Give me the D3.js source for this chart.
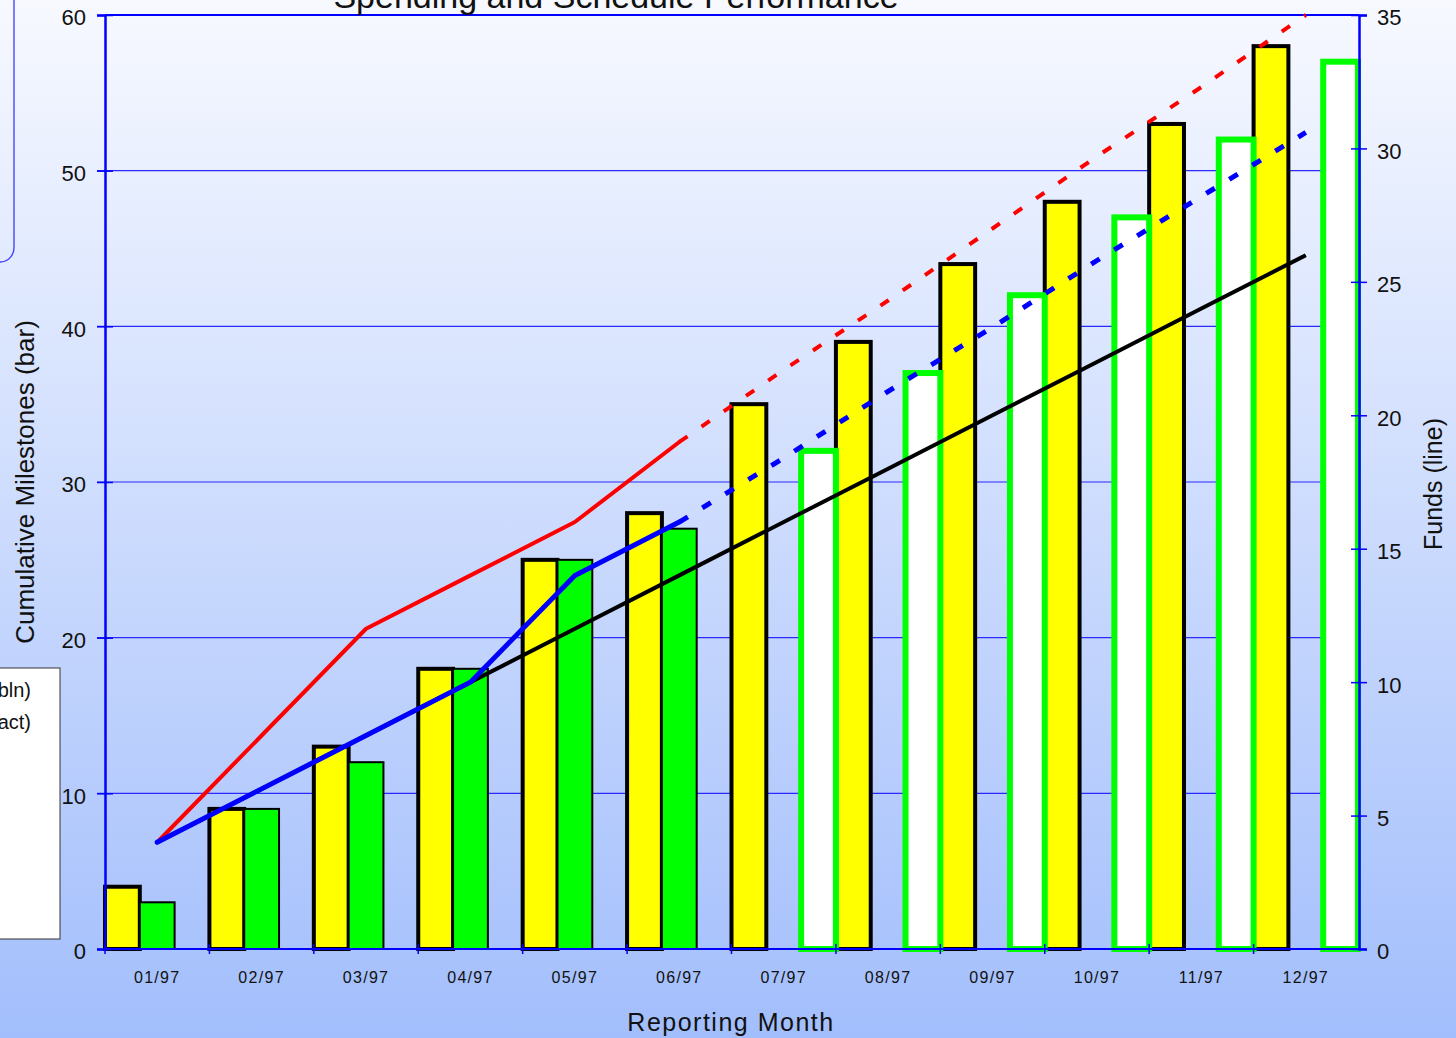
<!DOCTYPE html>
<html>
<head>
<meta charset="utf-8">
<script src="https://cdn.jsdelivr.net/npm/d3@7"></script>
<style>
  html, body { margin: 0; padding: 0; overflow: hidden; }
  svg { display: block; font-family: "Liberation Sans", Arial, sans-serif; }
</style>
</head>
<body>
<svg id="chart" width="1456" height="1038"></svg>
<script>
// Reporting months
const months = ["01/97","02/97","03/97","04/97","05/97","06/97","07/97","08/97","09/97","10/97","11/97","12/97"];

// Cumulative milestones (left axis, bars)
const plannedMilestones  = [4, 9, 13, 18, 25, 28, 35, 39, 44, 48, 53, 58];
const actualMilestones   = [3, 9, 12, 18, 25, 27, null, null, null, null, null, null];
const forecastMilestones = [null, null, null, null, null, null, 32, 37, 42, 47, 52, 57];

// Funds (right axis, lines)
const fundsBaseline      = [4, 6, 8, 10, 12, 14, 16, 18, 20, 22, 24, 26];
const fundsBudget        = [4, 8, 12, 14, 16, 19, null, null, null, null, null, null];
const fundsBudgetTrend   = [null, null, null, null, null, 19, 21.7, 24.3, 27, 29.7, 32.3, 35];
const fundsActual        = [4, 6, 8, 10, 14, 16, null, null, null, null, null, null];
const fundsActualTrend   = [null, null, null, null, null, 16, 18.4, 20.9, 23.3, 25.8, 28.2, 30.6];

const leftTicks  = [0, 10, 20, 30, 40, 50, 60];
const rightTicks = [0, 5, 10, 15, 20, 25, 30, 35];
const legendLabels = ["Funds ($bln)", "Funds (Contract)"];

const svg = d3.select("#chart");
const W = 1456, H = 1038;
const plot = { left: 105, right: 1358, top: 15, bottom: 949 };

// page background gradient
const defs = svg.append("defs");
const grad = defs.append("linearGradient").attr("id", "bg")
  .attr("x1", 0).attr("y1", 0).attr("x2", 0).attr("y2", 1);
grad.append("stop").attr("offset", "0%").attr("stop-color", "#f7f9ff");
grad.append("stop").attr("offset", "100%").attr("stop-color", "#a2befc");
svg.append("rect").attr("width", W).attr("height", H).attr("fill", "url(#bg)");

const x = d3.scaleBand().domain(months).range([plot.left, plot.right]).padding(0);
const yL = d3.scaleLinear().domain([0, 60]).range([plot.bottom, plot.top]);
const yR = d3.scaleLinear().domain([0, 35]).range([plot.bottom, plot.top]);
const bw = x.bandwidth() / 3;

// legend panels at the left edge
svg.append("rect")
  .attr("x", -300).attr("y", -50).attr("width", 314).attr("height", 312)
  .attr("rx", 14).attr("ry", 14)
  .attr("fill", "none").attr("stroke", "#3a3aff").attr("stroke-width", 1.3);

svg.append("rect")
  .attr("x", -200).attr("y", 668).attr("width", 260).attr("height", 271)
  .attr("fill", "#ffffff").attr("stroke", "#333333").attr("stroke-width", 1);
svg.selectAll(".legtext").data(legendLabels).join("text")
  .attr("class", "legtext")
  .attr("x", 31).attr("y", (d, i) => 697 + i * 32)
  .attr("text-anchor", "end")
  .attr("font-size", 20).attr("fill", "#111")
  .text(d => d);

// horizontal gridlines
svg.append("g").selectAll("line").data(leftTicks.filter(v => v > 0 && v < 60)).join("line")
  .attr("x1", plot.left - 8).attr("x2", plot.right + 1)
  .attr("y1", d => yL(d)).attr("y2", d => yL(d))
  .attr("stroke", "#2a2aff").attr("stroke-width", 1.1);

// bars
const bars = svg.append("g");
bars.selectAll(".plan").data(months.map((m, i) => ({ m, v: plannedMilestones[i] }))).join("rect")
  .attr("class", "plan")
  .attr("x", d => x(d.m)).attr("width", bw)
  .attr("y", d => yL(d.v)).attr("height", d => yL(0) - yL(d.v))
  .attr("fill", "#ffff00").attr("stroke", "#000").attr("stroke-width", 4);

bars.selectAll(".act").data(months.map((m, i) => ({ m, v: actualMilestones[i] })).filter(d => d.v != null)).join("rect")
  .attr("class", "act")
  .attr("x", d => x(d.m) + bw).attr("width", bw)
  .attr("y", d => yL(d.v)).attr("height", d => yL(0) - yL(d.v))
  .attr("fill", "#00ff00").attr("stroke", "#000").attr("stroke-width", 2);

bars.selectAll(".fc").data(months.map((m, i) => ({ m, v: forecastMilestones[i] })).filter(d => d.v != null)).join("rect")
  .attr("class", "fc")
  .attr("x", d => x(d.m) + 2 * bw).attr("width", bw)
  .attr("y", d => yL(d.v)).attr("height", d => yL(0) - yL(d.v))
  .attr("fill", "#ffffff").attr("stroke", "#00ff00").attr("stroke-width", 6);

// plot frame (top and bottom)
svg.append("line").attr("x1", plot.left).attr("x2", plot.right + 1)
  .attr("y1", plot.top).attr("y2", plot.top).attr("stroke", "#0000ff").attr("stroke-width", 2);
svg.append("line").attr("x1", plot.left).attr("x2", plot.right + 1)
  .attr("y1", plot.bottom).attr("y2", plot.bottom).attr("stroke", "#0000ff").attr("stroke-width", 2);

// lines
const cx = m => x(m) + x.bandwidth() / 2;
const lineGen = d3.line()
  .defined(d => d.v != null)
  .x(d => cx(d.m)).y(d => yR(d.v));
const series = (arr) => months.map((m, i) => ({ m, v: arr[i] }));

const lines = svg.append("g").attr("fill", "none").attr("stroke-linejoin", "round");
lines.append("path").attr("d", lineGen(series(fundsBaseline)))
  .attr("stroke", "#000").attr("stroke-width", 4);
lines.append("path").attr("d", lineGen(series(fundsBudget)))
  .attr("stroke", "#ff0000").attr("stroke-width", 4).attr("stroke-linecap", "round");
lines.append("path").attr("d", lineGen(series(fundsBudgetTrend)))
  .attr("stroke", "#ff0000").attr("stroke-width", 4).attr("stroke-dasharray", "10,17");
lines.append("path").attr("d", lineGen(series(fundsActual)))
  .attr("stroke", "#0000ff").attr("stroke-width", 5).attr("stroke-linecap", "round");
lines.append("path").attr("d", lineGen(series(fundsActualTrend)))
  .attr("stroke", "#0000ff").attr("stroke-width", 5).attr("stroke-dasharray", "10,17");

// left axis
const axL = svg.append("g").attr("transform", `translate(${plot.left},0)`)
  .call(d3.axisLeft(yL).tickValues(leftTicks).tickSize(8).tickPadding(11));
axL.select(".domain").attr("stroke", "#0000ff").attr("stroke-width", 2.5);
axL.selectAll(".tick line").attr("x1", -8).attr("x2", 8).attr("stroke", "#0000ff").attr("stroke-width", 1.5);
axL.selectAll(".tick text").attr("font-size", 22).attr("fill", "#111").attr("font-family", "Liberation Sans, Arial, sans-serif").attr("dy", "0.45em");

// right axis
const axR = svg.append("g").attr("transform", `translate(${plot.right + 1},0)`)
  .call(d3.axisRight(yR).tickValues(rightTicks).tickSize(8).tickPadding(10));
axR.select(".domain").attr("stroke", "#0000ff").attr("stroke-width", 2.5);
axR.selectAll(".tick line").attr("x1", -8).attr("x2", 8).attr("stroke", "#0000ff").attr("stroke-width", 1.5);
axR.selectAll(".tick text").attr("font-size", 22).attr("fill", "#111").attr("font-family", "Liberation Sans, Arial, sans-serif").attr("dy", "0.45em");

// bottom axis: labels centred on months, ticks on month boundaries
const axB = svg.append("g").attr("transform", `translate(0,${plot.bottom})`)
  .call(d3.axisBottom(x).tickSize(0).tickPadding(23));
axB.select(".domain").remove();
axB.selectAll(".tick text").attr("font-size", 16).attr("fill", "#111")
  .attr("letter-spacing", "1.3px").attr("font-family", "Liberation Sans, Arial, sans-serif");
axB.selectAll(".bnd").data(months).join("line").attr("class", "bnd")
  .attr("x1", d => x(d)).attr("x2", d => x(d))
  .attr("y1", -5).attr("y2", 5)
  .attr("stroke", "#0000ff").attr("stroke-width", 1.5);

// titles
svg.append("text").attr("x", 616).attr("y", 8).attr("text-anchor", "middle")
  .attr("font-size", 34).attr("fill", "#111").text("Spending and Schedule Performance");
svg.append("text").attr("x", 731).attr("y", 1031).attr("text-anchor", "middle")
  .attr("font-size", 25).attr("letter-spacing", "1.5px").attr("fill", "#111").text("Reporting Month");
svg.append("text").attr("transform", "translate(34,482) rotate(-90)").attr("text-anchor", "middle")
  .attr("font-size", 26).attr("fill", "#111").text("Cumulative Milestones (bar)");
svg.append("text").attr("transform", "translate(1442,484) rotate(-90)").attr("text-anchor", "middle")
  .attr("font-size", 25).attr("fill", "#111").text("Funds (line)");
</script>
</body>
</html>
